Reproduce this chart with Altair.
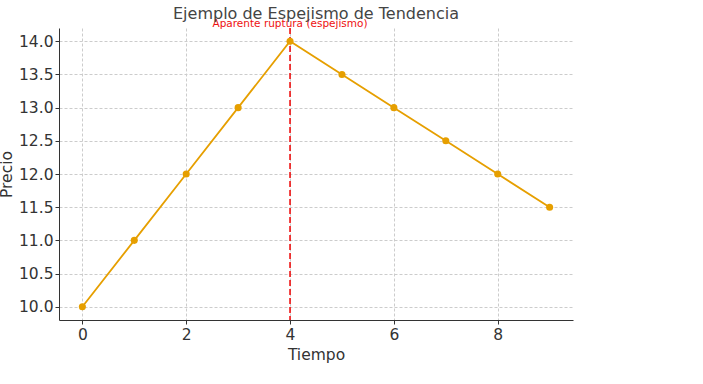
import altair as alt
import pandas as pd

tiempo = [0, 1, 2, 3, 4, 5, 6, 7, 8, 9]
precio = [10.0, 11.0, 12.0, 13.0, 14.0, 13.5, 13.0, 12.5, 12.0, 11.5]
ytick_vals = [10.0, 10.5, 11.0, 11.5, 12.0, 12.5, 13.0, 13.5, 14.0]
xtick_vals = [0, 2, 4, 6, 8]
ruptura_x = [4]
ruptura_label = ["Aparente ruptura (espejismo)"]
titulo = ["Ejemplo de Espejismo de Tendencia"]

df = pd.DataFrame({"Tiempo": tiempo, "Precio": precio})
df_r = pd.DataFrame({"x": ruptura_x, "label": ruptura_label})
df_t = pd.DataFrame({"t": titulo})

FONT = "DejaVu Sans"
TXT = "#333333"
xscale = alt.Scale(domain=[-0.45, 9.45], nice=False, zero=False)
yscale = alt.Scale(domain=[9.8, 14.2], nice=False, zero=False)

common = dict(grid=True, gridDash=[3, 2], gridColor="#cccccc", labelFontSize=15.5,
              titleFontSize=15.5, titleFontWeight="normal", labelFont=FONT, titleFont=FONT,
              labelColor=TXT, titleColor=TXT, domainColor="#333333", tickColor="#333333",
              tickSize=4, labelOverlap=False)
xaxis = alt.Axis(values=xtick_vals, title="Tiempo", labelPadding=3, titlePadding=5, **common)
yaxis = alt.Axis(values=ytick_vals, format=".1f", title="Precio", labelPadding=2,
                 titlePadding=4, **common)

X = alt.X("Tiempo:Q", scale=xscale, axis=xaxis)
Y = alt.Y("Precio:Q", scale=yscale, axis=yaxis)

base = alt.Chart(df)
line = base.mark_line(color="#E69F00", strokeWidth=1.8).encode(x=X, y=Y)
pts = base.mark_circle(color="#E69F00", size=50, opacity=1).encode(x=X, y=Y)
rule = alt.Chart(df_r).mark_rule(color="#ee1111", strokeDash=[6, 3], strokeWidth=1.6).encode(
    x=alt.X("x:Q", scale=xscale, axis=xaxis),
)
txt = alt.Chart(df_r).mark_text(color="#ee1111", fontSize=10.5, font=FONT, baseline="alphabetic",
                                 align="center").encode(
    x=alt.X("x:Q", scale=xscale, axis=xaxis),
    y=alt.value(-1),
    text="label:N",
)
title = alt.Chart(df_t).mark_text(color="#444444", fontSize=16, font=FONT, baseline="alphabetic",
                                   align="center").encode(
    x=alt.value(257),
    y=alt.value(-9),
    text="t:N",
)

chart = alt.layer(line, rule, pts, txt, title).properties(
    width=514, height=292,
    autosize=alt.AutoSizeParams(type="none"),
    padding={"left": 59, "top": 28, "right": 130, "bottom": 64},
).configure_view(stroke=None)

chart.save("out.html", embed_options={"renderer": "svg", "actions": False})
